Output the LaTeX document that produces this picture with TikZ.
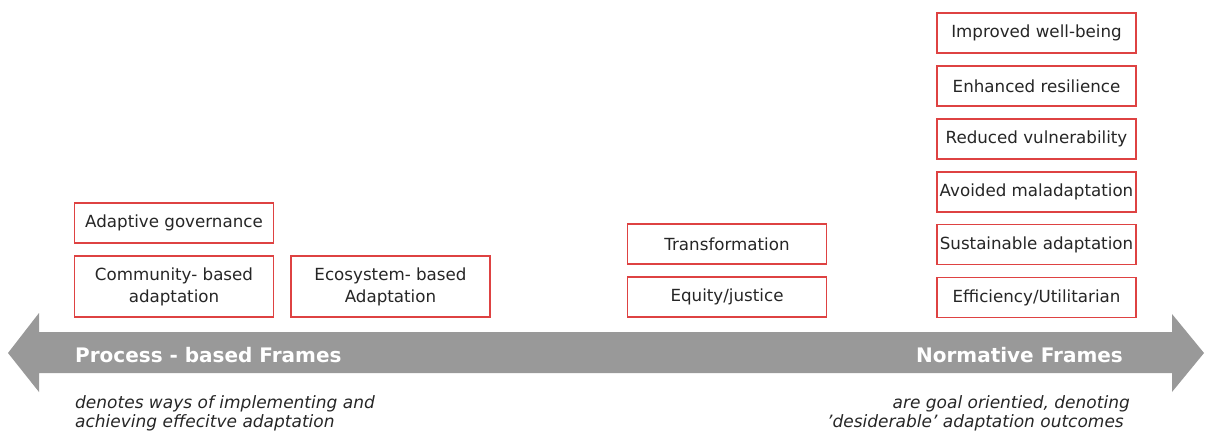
\documentclass[tikz,border=0pt]{standalone}
\usepackage{fontspec}
\setmainfont{DejaVu Sans}
\definecolor{boxred}{RGB}{222,66,66}
\definecolor{txt}{RGB}{38,38,38}
\definecolor{arrowgray}{RGB}{153,153,153}
\tikzset{
  framebox/.style={draw=boxred, line width=1.3pt, fill=white, minimum width=199pt, minimum height=40pt, inner sep=2pt, align=center, text=txt, font=\fontsize{16.7}{22}\selectfont},
  bigbox/.style={framebox, minimum height=61pt},
  arrowlabel/.style={text=white, font=\fontsize{20}{24}\selectfont\bfseries, inner sep=0pt},
  note/.style={text=txt, font=\fontsize{17}{20}\selectfont\itshape, inner sep=0pt}
}
\begin{document}
\begin{tikzpicture}[x=1pt,y=-1pt]
\useasboundingbox (0,0) rectangle (1208,431);
% double-headed arrow
\fill[arrowgray] (8,353) -- (39,313) -- (39,332) -- (1172,332) -- (1172,314) -- (1204,353) -- (1172,392) -- (1172,373) -- (39,373) -- (39,392) -- cycle;
\node[arrowlabel, anchor=base west] (proc) at (75,362) {Process - based Frames};
\node[arrowlabel, anchor=base east] (norm) at (1123,362) {Normative Frames};
% notes
\node[note, anchor=base west] (procnote1) at (75,408) {denotes ways of implementing and};
\node[note, anchor=base west] (procnote2) at (75,427) {achieving effecitve adaptation};
\node[note, anchor=base east] (normnote1) at (1130,408) {are goal orientied, denoting};
\node[note, anchor=base east] (normnote2) at (1124,427) {’desiderable’ adaptation outcomes};
% left boxes
\node[framebox] (gov) at (174,223) {Adaptive governance};
\node[bigbox] (cba) at (174,286.5) {Community- based\\adaptation};
\node[bigbox] (eba) at (390.5,286.5) {Ecosystem- based\\Adaptation};
% middle boxes
\node[framebox] (trans) at (727,244) {Transformation};
\node[framebox] (equity) at (727,297) {Equity/justice};
% right boxes
\node[framebox] (wb) at (1036.5,33) {Improved well-being};
\node[framebox] (res) at (1036.5,86) {Enhanced resilience};
\node[framebox] (vul) at (1036.5,139) {Reduced vulnerability};
\node[framebox] (mal) at (1036.5,192) {Avoided maladaptation};
\node[framebox] (sus) at (1036.5,244.5) {Sustainable adaptation};
\node[framebox] (eff) at (1036.5,297.5) {Efficiency/Utilitarian};
\end{tikzpicture}
\end{document}
